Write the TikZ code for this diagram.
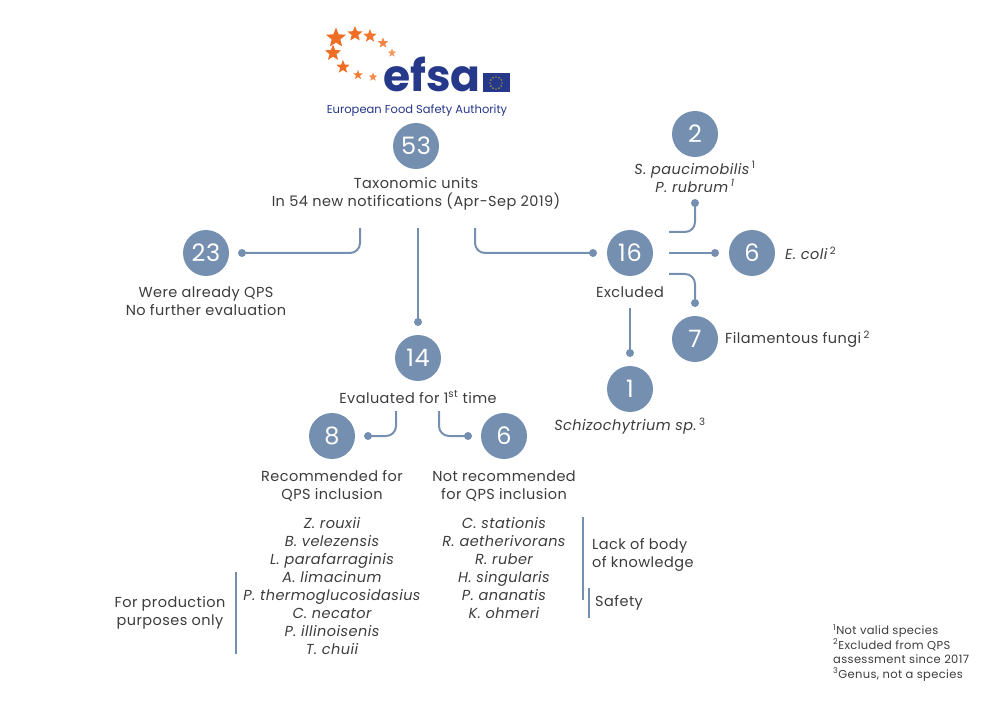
\documentclass[tikz,border=0pt]{standalone}
\usepackage{fontspec}
\setmainfont[LetterSpace=3]{Poppins}
\newfontfamily\logofont{Poppins}
\usetikzlibrary{shapes.geometric}

\definecolor{qpsblue}{RGB}{116,143,176}
\definecolor{qpstext}{RGB}{60,60,60}
\definecolor{efsablue}{RGB}{38,56,138}
\definecolor{efsaorange}{RGB}{240,110,36}
\definecolor{euyellow}{RGB}{255,221,0}

\tikzset{
  count/.style={circle, fill=qpsblue, text=white, minimum size=46pt, inner sep=0pt, font=\fontsize{24}{24}\selectfont},
  txt/.style={text=qpstext, align=center, inner sep=0pt, font=\fontsize{14.5}{18}\selectfont},
  species/.style={txt, font=\fontsize{14.5}{18}\selectfont\itshape},
  link/.style={draw=qpsblue, line width=2pt, rounded corners=10pt},
  knob/.style={circle, fill=qpsblue, minimum size=8pt, inner sep=0pt},
  bar/.style={draw=qpsblue, line width=2pt},
  estar/.style={star, star points=5, star point ratio=2.3, inner sep=0pt},
}

\begin{document}
\begin{tikzpicture}[x=1pt, y=-1pt]
	\useasboundingbox (0,0) rectangle (988,711);

	% logo
	\foreach \px/\py/\sz/\op [count=\i] in {336/38/21/100, 355/34/16/100, 370/36/14/95, 383/43/11/85, 392/53/9/70,
	                                        333/53/17/100, 343/67/14/100, 358/75/10/90, 373/77/9/80}
		\node [estar, minimum size=\sz pt, fill=efsaorange!\op!white] (star\i) at (\px,\py) {};
	\node [text=efsablue, inner sep=0pt, text depth=0pt, font=\logofont\fontsize{44}{44}\selectfont\bfseries, anchor=base west] (efsa) at (383,92) {efsa};
	\node [fill=efsablue, minimum width=27pt, minimum height=19pt, inner sep=0pt] (flag) at (496,83) {};
	\foreach \a in {0,30,...,330}
		\fill [euyellow] (flag) ++(\a:6) circle (0.7);
	\node [text=efsablue, inner sep=0pt, font=\logofont\fontsize{11.5}{12}\selectfont] (efsaname) at (417,111) {European Food Safety Authority};

	% counts
	\node [count] (n53) at (416,146) {53};
	\node [count] (n23) at (206,253) {23};
	\node [count] (n14) at (418,358) {14};
	\node [count] (n16) at (630,253) {16};
	\node [count] (n2) at (695,134) {2};
	\node [count] (n6e) at (752,253) {6};
	\node [count] (n7) at (695,339) {7};
	\node [count] (n1) at (630,389) {1};
	\node [count] (n8) at (332,436) {8};
	\node [count] (n6) at (504,436) {6};

	% texts
	\node [txt] (t53) at (416,194) {Taxonomic units\\In 54 new notifications (Apr-Sep 2019)};
	\node [txt] (t23) at (206,301) {Were already QPS\\No further evaluation};
	\node [txt] (t16) at (630,292) {Excluded};
	\node [species] (t2) at (695,177) {S. paucimobilis\,\textsuperscript{\upshape 1}\\P. rubrum\,\textsuperscript{1}};
	\node [species, anchor=west] (t6e) at (785,253) {E. coli\,\textsuperscript{\upshape 2}};
	\node [txt, anchor=west] (t7) at (725,339) {Filamentous fungi\,\textsuperscript{2}};
	\node [species] (t1) at (630,426) {Schizochytrium sp.\,\textsuperscript{\upshape 3}};
	\node [txt] (t14) at (418,397) {Evaluated for 1\textsuperscript{st} time};
	\node [txt] (t8) at (332,486) {Recommended for\\QPS inclusion};
	\node [txt] (t6) at (504,486) {Not recommended\\for QPS inclusion};

	% species lists
	\node [species] (list8) at (332,586) {Z. rouxii\\B. velezensis\\L. parafarraginis\\A. limacinum\\P. thermoglucosidasius\\C. necator\\P. illinoisenis\\T. chuii};
	\node [species] (list6) at (504,568) {C. stationis\\R. aetherivorans\\R. ruber\\H. singularis\\P. ananatis\\K. ohmeri};
	\node [txt] (tprod) at (170,613) {For production\\purposes only};
	\node [txt, anchor=west, align=left] (tlack) at (592,555) {Lack of body\\of knowledge};
	\node [txt, anchor=west] (tsafe) at (595,603) {Safety};

	% footnotes
	\node [txt, anchor=west, align=left, font=\fontsize{11.5}{14.5}\selectfont] (notes) at (833,653)
		{\textsuperscript{1}Not valid species\\\textsuperscript{2}Excluded from QPS\\assessment since 2017\\\textsuperscript{3}Genus, not a species};

	% connectors
	\coordinate (s23) at (360,228);
	\coordinate (s14) at (418,228);
	\coordinate (s16) at (475,228);
	\coordinate (s2) at (669,232);
	\coordinate (s6e) at (669,253);
	\coordinate (s7) at (669,274);
	\coordinate (s1) at (630,308);
	\coordinate (s8) at (396,411);
	\coordinate (s6) at (439,411);

	\node [knob] (d23) at (242,253) {};
	\node [knob] (d14) at (418,322) {};
	\node [knob] (d16) at (593,253) {};
	\node [knob] (d2) at (695,203) {};
	\node [knob] (d6e) at (715,253) {};
	\node [knob] (d7) at (695,303) {};
	\node [knob] (d1) at (630,353) {};
	\node [knob] (d8) at (368,436) {};
	\node [knob] (d6) at (468,436) {};

	\draw [link] (s23) |- (d23.center);
	\draw [link] (s14) -- (d14.center);
	\draw [link] (s16) |- (d16.center);
	\draw [link] (s2) -| (d2.center);
	\draw [link] (s6e) -- (d6e.center);
	\draw [link] (s7) -| (d7.center);
	\draw [link] (s1) -- (d1.center);
	\draw [link] (s8) |- (d8.center);
	\draw [link] (s6) |- (d6.center);

	% brackets
	\coordinate (b1top) at (236,572);
	\coordinate (b1bot) at (236,654);
	\coordinate (b2top) at (583,517);
	\coordinate (b2bot) at (583,600);
	\coordinate (b3top) at (589,588);
	\coordinate (b3bot) at (589,618);
	\draw [bar] (b1top) -- (b1bot);
	\draw [bar] (b2top) -- (b2bot);
	\draw [bar] (b3top) -- (b3bot);
\end{tikzpicture}
\end{document}
